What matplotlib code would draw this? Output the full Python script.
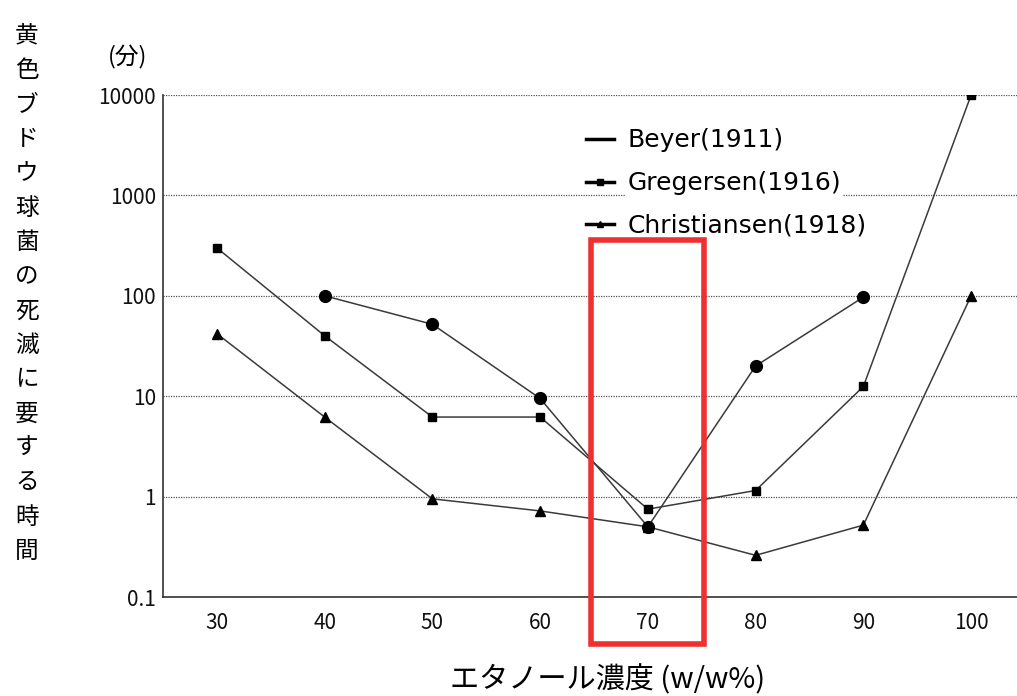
import matplotlib
matplotlib.use('Agg')
import matplotlib.pyplot as plt
from matplotlib.lines import Line2D
from matplotlib.patches import Rectangle

plt.rcParams['font.family'] = ['Noto Sans CJK JP', 'DejaVu Sans']

# data (minutes to kill S. aureus vs ethanol concentration)
conc = [30, 40, 50, 60, 70, 80, 90, 100]
beyer_x = [40, 50, 60, 70, 80, 90]
beyer = [100, 52, 9.5, 0.5, 20, 97]
greg_x = [30, 40, 50, 60, 70, 80, 90, 100]
greg = [300, 40, 6.2, 6.2, 0.75, 1.15, 12.5, 10000]
chris_x = [30, 40, 50, 60, 70, 80, 90, 100]
chris = [42, 6.2, 0.95, 0.72, 0.5, 0.26, 0.52, 100]
labels = ['Beyer(1911)', 'Gregersen(1916)', 'Christiansen(1918)']
yticks = [0.1, 1, 10, 100, 1000, 10000]
ytick_labels = ['0.1', '1', '10', '100', '1000', '10000']
highlight = 70
ylabel = '黄色ブドウ球菌の死滅に要する時間'

W, H = 1017, 696
fig = plt.figure(figsize=(W / 100, H / 100), dpi=100)
ax = fig.add_axes([163 / W, 1 - 597 / H, (1025 - 163) / W, (597 - 95) / H])

lc = '#3a3a3a'
ax.plot(greg_x, greg, color=lc, lw=1.1, marker='s', ms=5.5, mfc='black', mec='black', zorder=3)
ax.plot(chris_x, chris, color=lc, lw=1.1, marker='^', ms=6.5, mfc='black', mec='black', zorder=3)
ax.plot(beyer_x, beyer, color=lc, lw=1.1, marker='o', ms=8.5, mfc='black', mec='black', zorder=3)

ax.set_yscale('log')
ax.set_ylim(0.1, 10000)
ax.set_xlim(25, 105)
ax.set_yticks(yticks)
ax.set_yticklabels(ytick_labels)
ax.minorticks_off()
ax.set_xticks(conc)
ax.set_xticklabels([str(c) for c in conc])
ax.tick_params(axis='both', length=0, labelsize=15, colors='#111111')
ax.tick_params(axis='y', pad=5)
ax.tick_params(axis='x', pad=11)
ax.yaxis.grid(True, linestyle=(0, (1, 1)), color='#555555', lw=0.9)
ax.set_axisbelow(True)
for s in ['top', 'right']:
    ax.spines[s].set_visible(False)
for s in ['left', 'bottom']:
    ax.spines[s].set_color('#333333')
    ax.spines[s].set_linewidth(1.2)

# legend
handles = [
    Line2D([], [], color='black', lw=2.5),
    Line2D([], [], color='black', lw=2.5, marker='s', ms=4),
    Line2D([], [], color='black', lw=2.5, marker='^', ms=5),
]
leg = ax.legend(handles, labels, loc='upper left', bbox_to_anchor=(573 / W, 1 - 116 / H),
                bbox_transform=fig.transFigure, frameon=False, borderpad=0,
                prop={'family': 'DejaVu Sans', 'size': 18},
                handlelength=1.12, handletextpad=0.56, labelspacing=0.75)
for t in leg.get_texts():
    t.set_bbox(dict(facecolor='white', edgecolor='none', pad=1))

# red highlight box around the 70% column
rect = Rectangle((highlight - 5.3, 0.034), 10.5, 360 - 0.034, fill=False,
                 edgecolor='#ee3030', lw=4, clip_on=False, zorder=10)
ax.add_patch(rect)

fig.text(27 / W, 1 - 294 / H, '\n'.join(ylabel), ha='center', va='center',
         fontsize=17, linespacing=1.63)
fig.text(128 / W, 1 - 57 / H, '(分)', ha='center', va='center', fontsize=17)
fig.text(608 / W, 1 - 680 / H, 'エタノール濃度 (w/w%)', ha='center', va='center', fontsize=21)

fig.savefig('out.png', dpi=100)
